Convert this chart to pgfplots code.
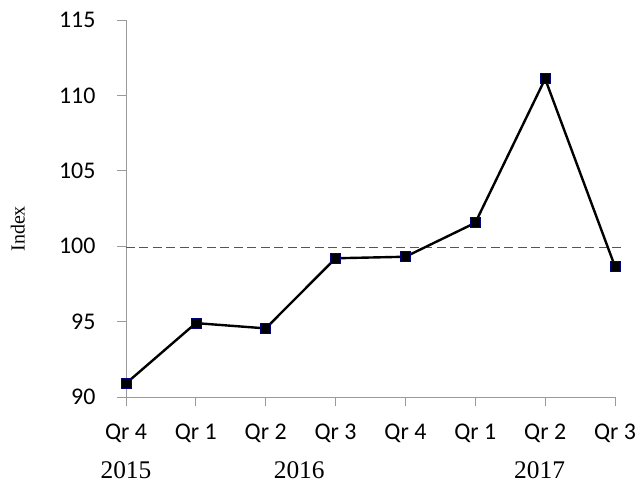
\documentclass[border=0pt]{standalone}
\usepackage{pgfplots}
\pgfplotsset{compat=1.18}
\usepackage{fontspec}
\setmainfont{Liberation Serif}
\newfontfamily\calibri{Carlito}
\definecolor{axgray}{HTML}{9A9A9A}
\definecolor{dashgray}{HTML}{555555}
\definecolor{navy}{HTML}{000080}
\begin{document}
\begin{tikzpicture}
\begin{axis}[
  scale only axis, width=489bp, height=377bp,
  xmin=0, xmax=7, ymin=90, ymax=115,
  axis x line*=bottom, axis y line*=left,
  xtick={0,1,2,3,4,5,6,7},
  xticklabels={Qr 4, Qr 1, Qr 2, Qr 3, Qr 4, Qr 1, Qr 2, Qr 3},
  ytick={90,95,100,105,110,115},
  tick align=outside, major tick length=9bp,
  axis line style={draw=axgray, line width=0.9bp},
  tick style={draw=axgray, line width=0.9bp},
  ticklabel style={font=\calibri\fontsize{24}{27}\selectfont},
  yticklabel style={xshift=-18bp},
  xticklabel style={yshift=-14bp},
  /pgf/number format/assume math mode=true,
  clip=false,
]
\addplot[dashgray, line width=1.3bp, dash pattern=on 9bp off 4.5bp] coordinates {(0,99.9) (7.12,99.9)};
\addplot[black, line width=2.4bp, mark=square*, mark size=5bp,
  mark options={solid, fill=black, draw=navy, line width=0.7bp}] coordinates {
  (0,90.9) (1,94.9) (2,94.55) (3,99.2) (4,99.3) (5,101.55) (6,111.1) (7,98.65)};
\node[rotate=90, font=\fontsize{20}{24}\selectfont] at (rel axis cs:-0.221,0.446) {Index};
\node[anchor=base, inner sep=0pt, yshift=-81bp, font=\fontsize{25.5}{28}\selectfont] at (axis cs:0,90) {2015};
\node[anchor=base, inner sep=0pt, yshift=-81bp, font=\fontsize{25.5}{28}\selectfont] at (axis cs:2.48,90) {2016};
\node[anchor=base, inner sep=0pt, yshift=-81bp, font=\fontsize{25.5}{28}\selectfont] at (axis cs:5.92,90) {2017};
\coordinate (bl) at (rel axis cs:0,0);
\coordinate (tr) at (rel axis cs:1,1);
\end{axis}
\pgfresetboundingbox
\path[use as bounding box] ([xshift=-126bp,yshift=-87bp]bl) rectangle ([xshift=26bp,yshift=20bp]tr);
\end{tikzpicture}
\end{document}
